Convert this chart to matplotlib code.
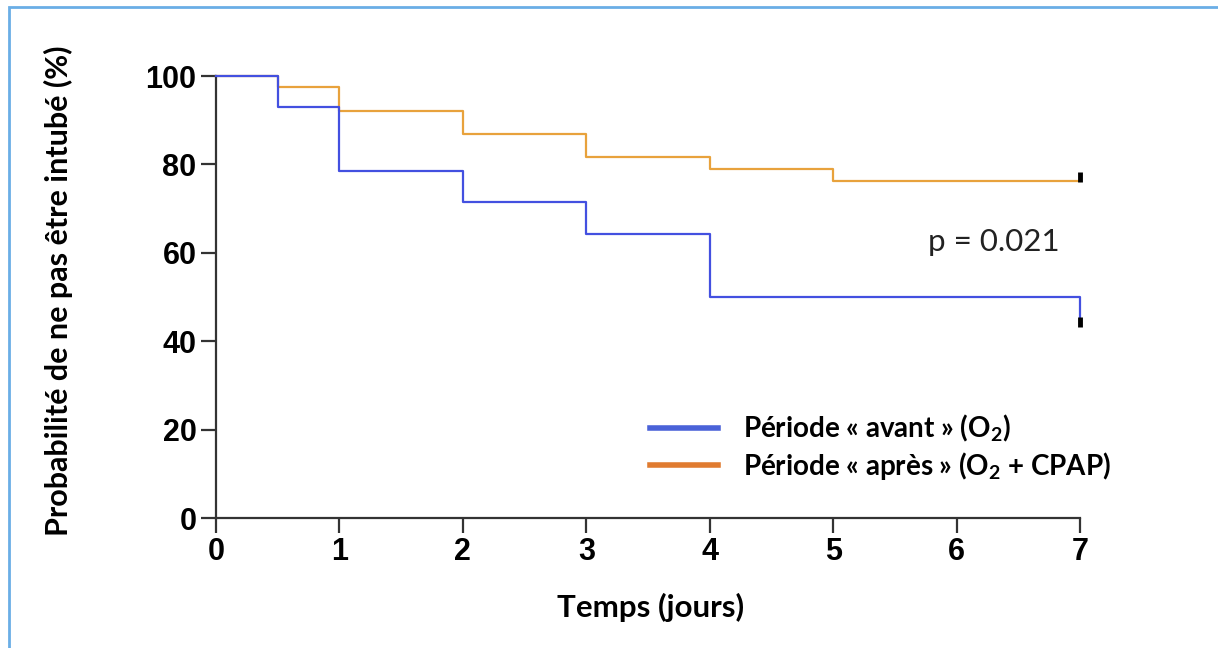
import matplotlib
matplotlib.use("Agg")
import matplotlib.pyplot as plt
from matplotlib.lines import Line2D
from matplotlib.patches import Rectangle

plt.rcParams["mathtext.fontset"] = "custom"
plt.rcParams["mathtext.rm"] = "Lato:bold"
plt.rcParams["mathtext.it"] = "Lato:bold"
plt.rcParams["mathtext.bf"] = "Lato:bold"

# Data (Kaplan-Meier steps)
avant_t = [0, 0.5, 1, 2, 3, 4, 7]
avant_s = [100, 92.9, 78.6, 71.4, 64.3, 50.0, 45.5]
avant_censor_t = [7]
avant_censor_s = [44.3]

apres_t = [0, 0.5, 1, 2, 3, 4, 5, 7]
apres_s = [100, 97.4, 92.1, 86.8, 81.6, 78.9, 76.3, 76.3]
apres_censor_t = [7]
apres_censor_s = [77.2]

x_ticks = [0, 1, 2, 3, 4, 5, 6, 7]
y_ticks = [0, 20, 40, 60, 80, 100]
legend_labels = ["Période « avant » (O$_2$)", "Période « après » (O$_2$ + CPAP)"]
p_text = "p = 0.021"

blue = "#4350e0"
orange = "#e8a23c"

W, H = 1218, 648
fig = plt.figure(figsize=(W / 100, H / 100), dpi=100)
fig.patches.append(Rectangle((9 / W, -0.1), 1.2, (H - 7) / H + 0.1, transform=fig.transFigure,
                             fill=False, edgecolor="#6aaee6", linewidth=2))
ax = fig.add_axes([216 / W, 1 - 518 / H, (1080 - 216) / W, (518 - 76) / H])

ax.step(avant_t, avant_s, where="post", color=blue, lw=1.6, clip_on=False, zorder=3)
ax.step(apres_t, apres_s, where="post", color=orange, lw=1.6, clip_on=False, zorder=2)
ax.plot(avant_censor_t, avant_censor_s, ls="none", marker="|", color="black", ms=7, mew=3.5, clip_on=False, zorder=4)
ax.plot(apres_censor_t, apres_censor_s, ls="none", marker="|", color="black", ms=7, mew=3.5, clip_on=False, zorder=4)

ax.set_xlim(0, 7)
ax.set_ylim(0, 100)
ax.set_xticks(x_ticks)
ax.set_yticks(y_ticks)
for s in ["top", "right"]:
    ax.spines[s].set_visible(False)
for s in ["left", "bottom"]:
    ax.spines[s].set_linewidth(1.6)
    ax.spines[s].set_color("#333333")
ax.tick_params(axis="both", direction="out", length=11, width=1.6, color="#333333", pad=3)
for lab in ax.get_xticklabels() + ax.get_yticklabels():
    lab.set_fontfamily("Liberation Sans")
    lab.set_fontweight("bold")
    lab.set_fontsize(22)

ax.set_xlabel("Temps (jours)", fontfamily="Lato", fontweight="bold", fontsize=22.5)
ax.xaxis.set_label_coords(0.503, (518 - 593) / 442)
ax.set_ylabel("Probabilité de ne pas être intubé (%)", fontfamily="Lato", fontweight="bold", fontsize=22)
ax.yaxis.set_label_coords((73 - 216) / 864, (518 - 291) / 442)

ax.text(6.3, 62.4, p_text, fontfamily="Lato", fontsize=22.5, color="#222222", ha="center", va="center")

handles = [Line2D([], [], color="#4a62d8", lw=4), Line2D([], [], color="#e07b30", lw=4)]
leg = ax.legend(handles, legend_labels, loc="upper left", bbox_to_anchor=(625 / W, 1 - 388 / H),
                bbox_transform=fig.transFigure,
                frameon=False, handlelength=2.45, handletextpad=0.9, labelspacing=0.2,
                prop={"family": "Lato", "weight": "bold", "size": 20})

fig.savefig("out.png", dpi=100)
